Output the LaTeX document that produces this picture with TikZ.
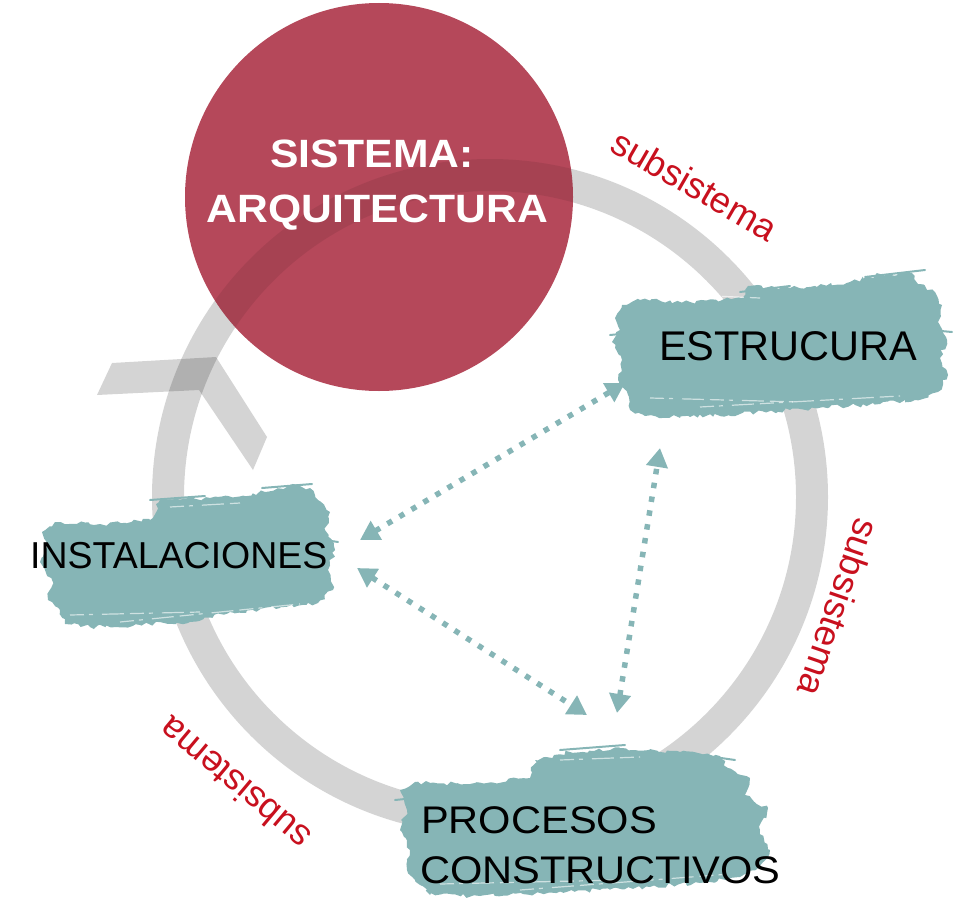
\documentclass[tikz,border=0pt]{standalone}
\usepackage{fontspec}
\setmainfont{Liberation Sans}
\newfontfamily\widefont{Liberation Sans}[FakeStretch=1.08]
\usetikzlibrary{arrows.meta,decorations.pathmorphing}
\definecolor{redc}{RGB}{181,72,90}
\definecolor{tealc}{RGB}{134,181,182}
\definecolor{labelred}{RGB}{200,16,30}
\begin{document}
\begin{tikzpicture}[x=1pt,y=-1pt,
  brush/.style={fill=tealc, decorate, decoration={random steps, segment length=4pt, amplitude=2.2pt}},
  bristle/.style={draw=tealc, line width=2pt, line cap=round},
  streak/.style={draw=white, line width=1.2pt, opacity=0.6, dash pattern=on 14pt off 5pt on 4pt off 9pt on 22pt off 6pt},
  ringstyle/.style={draw=black, draw opacity=0.17, line width=32pt},
  ringover/.style={draw=black, draw opacity=0.08, line width=32pt},
  shadow/.style={fill=black, fill opacity=0.17},
  dotarrow/.style={draw=tealc, line width=5.5pt, dash pattern=on 5.5pt off 8.5pt,
     {Triangle[length=19pt,width=21pt]}-{Triangle[length=19pt,width=21pt]}},
  boxtext/.style={inner sep=0pt, text=black},
  lab/.style={inner sep=0pt, text=labelred, font=\fontsize{36.5}{40}\selectfont}]
\pgfmathsetseed{11}
\useasboundingbox (0,0) rectangle (960,899);

% cycle ring and direction chevron
\coordinate (ringc) at (490,497);
\draw[ringstyle] (ringc) circle[radius=322];
\fill[shadow] (112,363) -- (216,357) -- (267,437) -- (253,470) -- (199,390) -- (97,395) -- cycle;

% main circle, with the ring faintly showing through
\coordinate (sysc) at (379,197);
\fill[redc] (sysc) circle[radius=194];
\begin{scope}
  \clip (sysc) circle[radius=194];
  \draw[ringover] (ringc) circle[radius=322];
\end{scope}

% brush strokes
\fill[brush] (615,318) -- (622,305) -- (640,300) -- (690,302) -- (742,298) -- (748,286) -- (790,288) -- (850,282) -- (880,274) -- (912,273) -- (918,284) -- (935,292) -- (942,305) -- (938,322) -- (947,340) -- (940,358) -- (948,375) -- (938,392) -- (915,400) -- (880,404) -- (830,407) -- (790,410) -- (740,414) -- (690,417) -- (645,416) -- (630,410) -- (628,395) -- (618,380) -- (622,360) -- (612,342) -- (620,330) -- cycle;
\draw[bristle] (865,277) -- (925,270);
\draw[bristle] (740,292) -- (790,286);
\draw[bristle] (930,330) -- (952,332);
\draw[bristle] (610,335) -- (630,333);
\draw[streak] (650,398) -- (800,402);
\draw[streak] (700,407) -- (900,396);
\draw[streak] (690,295) -- (760,298);

\fill[brush] (42,532) -- (55,522) -- (100,524) -- (150,520) -- (160,500) -- (210,498) -- (265,492) -- (290,485) -- (310,488) -- (318,500) -- (330,512) -- (325,530) -- (335,550) -- (328,570) -- (333,590) -- (318,603) -- (280,608) -- (230,612) -- (190,622) -- (140,625) -- (90,627) -- (65,624) -- (60,610) -- (48,600) -- (52,580) -- (40,562) -- (47,545) -- cycle;
\draw[bristle] (262,488) -- (312,484);
\draw[bristle] (150,500) -- (205,496);
\draw[bristle] (325,540) -- (338,542);
\draw[streak] (70,615) -- (200,612);
\draw[streak] (120,622) -- (300,604);
\draw[streak] (170,507) -- (240,503);

\fill[brush] (400,790) -- (415,782) -- (470,784) -- (530,778) -- (535,760) -- (570,752) -- (620,748) -- (680,752) -- (720,756) -- (728,768) -- (750,778) -- (745,795) -- (768,808) -- (760,830) -- (770,850) -- (758,868) -- (740,877) -- (700,883) -- (650,887) -- (600,890) -- (540,893) -- (480,896) -- (430,895) -- (420,885) -- (407,870) -- (410,850) -- (400,830) -- (407,810) -- cycle;
\draw[bristle] (560,750) -- (625,745);
\draw[bristle] (700,755) -- (735,760);
\draw[bristle] (395,800) -- (415,798);
\draw[streak] (440,884) -- (620,880);
\draw[streak] (520,890) -- (730,874);
\draw[streak] (560,760) -- (640,757);

% relations
\coordinate (a1s) at (625,383);
\coordinate (a1i) at (360,540);
\coordinate (a2i) at (357,568);
\coordinate (a2p) at (587,715);
\coordinate (a3s) at (660,448);
\coordinate (a3p) at (617,713);
\draw[dotarrow] (a1i) -- (a1s);
\draw[dotarrow] (a2i) -- (a2p);
\draw[dotarrow] (a3p) -- (a3s);

% texts
\node[inner sep=0pt, anchor=base, text=white, font=\widefont\bfseries\fontsize{39.5}{44}\selectfont] (sis1) at (372,167) {SISTEMA:};
\node[inner sep=0pt, anchor=base, text=white, font=\widefont\bfseries\fontsize{39.5}{44}\selectfont] (sis2) at (377.5,222) {ARQUITECTURA};

\node[boxtext, anchor=base west, font=\fontsize{41.5}{46}\selectfont] (estr) at (659,360) {ESTRUCURA};
\node[boxtext, anchor=base west, font=\fontsize{37.5}{42}\selectfont] (inst) at (30,568) {INSTALACIONES};
\node[boxtext, anchor=base west, font=\widefont\fontsize{38.5}{44}\selectfont] (proc1) at (421,833) {PROCESOS};
\node[boxtext, anchor=base west, font=\widefont\fontsize{38.5}{44}\selectfont] (proc2) at (420,883) {CONSTRUCTIVOS};

\node[lab, rotate=-30] (s1) at (695,185) {subsistema};
\node[lab, rotate=-109] (s2) at (839,608) {subsistema};
\node[lab, rotate=140] (s3) at (234,784) {subsistema};
\end{tikzpicture}
\end{document}
